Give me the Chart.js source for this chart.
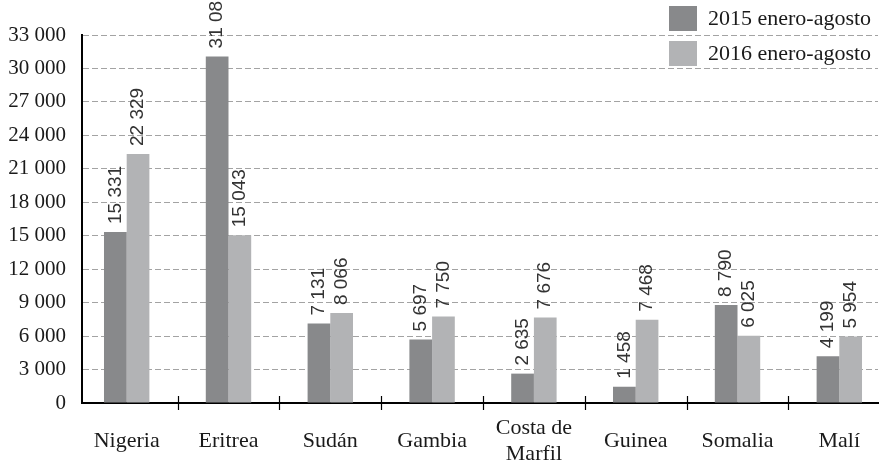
<!DOCTYPE html>
<html>
<head>
<meta charset="utf-8">
<style>
  html, body { margin: 0; padding: 0; background: #fff; }
</style>
</head>
<body>
<canvas id="bar-chart" width="879" height="464"></canvas>
<script src="https://cdn.jsdelivr.net/npm/chart.js@4/dist/chart.umd.min.js"></script>
<script>
const countries = ["Nigeria", "Eritrea", "Sudán", "Gambia", "Costa de\nMarfil", "Guinea", "Somalia", "Malí"];
const values2015 = [15331, 31080, 7131, 5697, 2635, 1458, 8790, 4199];
const values2016 = [22329, 15043, 8066, 7750, 7676, 7468, 6025, 5954];
const seriesNames = ["2015 enero-agosto", "2016 enero-agosto"];
const seriesColors = ["#88898b", "#b2b3b5"];
const yMax = 33000;
const yStep = 3000;

// "33 000" style numbers
const fmt = (v) => String(v).replace(/\B(?=(\d{3})+(?!\d))/g, " ");

const toPoints = (values) => values.map((y, i) => ({ x: i, y: y }));

// rotated value labels above each bar
const valueLabels = {
    id: "valueLabels",
    afterDatasetsDraw(chart) {
        const ctx = chart.ctx;
        ctx.save();
        ctx.font = '19px "Liberation Sans"';
        ctx.fillStyle = "#333";
        ctx.textAlign = "left";
        ctx.textBaseline = "middle";
        chart.data.datasets.forEach((ds, di) => {
            chart.getDatasetMeta(di).data.forEach((bar, i) => {
                ctx.save();
                ctx.translate(bar.x, bar.y - 8);
                ctx.rotate(-Math.PI / 2);
                ctx.fillText(fmt(ds.data[i].y), 0, 0);
                ctx.restore();
            });
        });
        ctx.restore();
    },
};

// small tick marks between country groups, crossing the x axis
const groupTicks = {
    id: "groupTicks",
    afterDraw(chart) {
        const ctx = chart.ctx;
        const x = chart.scales.x;
        const bottom = chart.chartArea.bottom;
        ctx.save();
        ctx.strokeStyle = "#000";
        ctx.lineWidth = 1.2;
        for (let i = 0; i < countries.length - 1; i++) {
            const px = Math.round(x.getPixelForValue(i + 0.5)) + 0.5;
            ctx.beginPath();
            ctx.moveTo(px, bottom - 7);
            ctx.lineTo(px, bottom + 7);
            ctx.stroke();
        }
        ctx.restore();
    },
};

// legend in the top right corner, over the plot
const boxLegend = {
    id: "boxLegend",
    afterDraw(chart) {
        const ctx = chart.ctx;
        ctx.save();
        ctx.font = '22px "Liberation Serif"';
        ctx.textBaseline = "middle";
        ctx.textAlign = "left";
        chart.data.datasets.forEach((ds, i) => {
            const top = 6 + i * 35;
            ctx.fillStyle = ds.backgroundColor;
            ctx.fillRect(669, top, 28, 25);
            ctx.fillStyle = "#1a1a1a";
            ctx.fillText(ds.label, 708, top + 13);
        });
        ctx.restore();
    },
};

const ctx = document.getElementById("bar-chart");

new Chart(ctx, {
    type: "bar",
    data: {
        datasets: [
            {
                label: seriesNames[0],
                data: toPoints(values2015),
                backgroundColor: seriesColors[0],
                borderWidth: 0,
            },
            {
                label: seriesNames[1],
                data: toPoints(values2016),
                backgroundColor: seriesColors[1],
                borderWidth: 0,
            },
        ],
    },
    options: {
        responsive: false,
        animation: false,
        categoryPercentage: 0.446,
        barPercentage: 1,
        layout: { padding: { top: 35, right: 1, left: 0, bottom: 0 } },
        plugins: {
            legend: { display: false },
            tooltip: { enabled: false },
        },
        scales: {
            x: {
                type: "linear",
                offset: false,
                min: -0.439,
                max: 7.38,
                grid: { display: false, drawTicks: false, offset: false },
                border: { display: true, color: "#000", width: 2 },
                ticks: {
                    stepSize: 1,
                    includeBounds: false,
                    autoSkip: false,
                    maxRotation: 0,
                    padding: 25,
                    crossAlign: "center",
                    color: "#1a1a1a",
                    font: { family: "Liberation Serif", size: 22, lineHeight: 1.18 },
                    callback: (v) => (Number.isInteger(v) && countries[v] ? countries[v].split("\n") : ""),
                },
                afterFit(scale) {
                    scale.height = 61;
                    scale.paddingLeft = 0;
                    scale.paddingRight = 0;
                },
            },
            y: {
                min: 0,
                max: yMax,
                grid: {
                    drawTicks: false,
                    color: (c) => (c.tick && c.tick.value === 0 ? "transparent" : "#a3a3a3"),
                    lineWidth: 1,
                },
                border: { display: true, color: "#000", width: 2, dash: [6, 3] },
                ticks: {
                    stepSize: yStep,
                    padding: 16,
                    color: "#1a1a1a",
                    font: { family: "Liberation Serif", size: 21 },
                    callback: (v) => fmt(v),
                },
                afterFit(scale) {
                    scale.width = 82;
                },
            },
        },
    },
    plugins: [valueLabels, groupTicks, boxLegend],
});
</script>
</body>
</html>
